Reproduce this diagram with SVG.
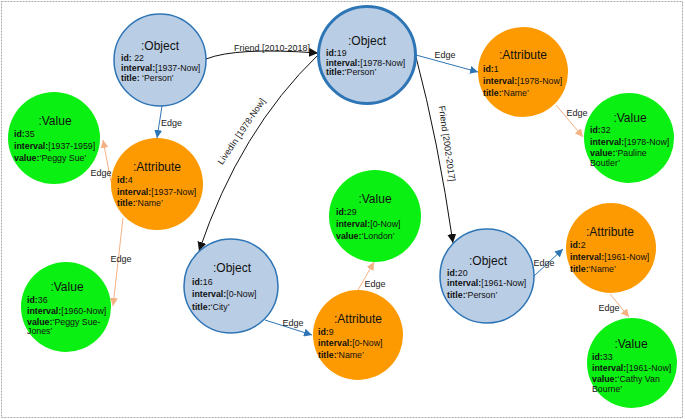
<svg xmlns="http://www.w3.org/2000/svg" width="685" height="419" viewBox="0 0 685 419">
<style>
.obj{fill:#b9cde5;stroke:#2e75b6;stroke-width:1.5}
.att{fill:#fe9a01;stroke:none}
.val{fill:#0af012;stroke:none}
text{font-family:"Liberation Sans",Arial,sans-serif;fill:#111}
.t{font-size:12px;text-anchor:middle}
.d{font-size:8.8px}
.d tspan.k{font-weight:bold}
.lbl{font-size:9px;fill:#222}
.eb{stroke:#2e75b6;stroke-width:1;fill:none}
.eo{stroke:#f4b183;stroke-width:1;fill:none}
.ek{stroke:#111;stroke-width:1;fill:none}
</style>
<defs>
<marker id="ab" viewBox="0 0 10 10" refX="10" refY="5" markerWidth="8" markerHeight="8" markerUnits="userSpaceOnUse" orient="auto"><path d="M0,0L10,5L0,10z" fill="#2e75b6"/></marker>
<marker id="ao" viewBox="0 0 10 10" refX="10" refY="5" markerWidth="8" markerHeight="8" markerUnits="userSpaceOnUse" orient="auto"><path d="M0,0L10,5L0,10z" fill="#f4b183"/></marker>
<marker id="ak" viewBox="0 0 10 10" refX="10" refY="5" markerWidth="9" markerHeight="9" markerUnits="userSpaceOnUse" orient="auto"><path d="M0,0L10,5L0,10z" fill="#111"/></marker>
</defs>
<rect x="1.5" y="1.5" width="681" height="416" fill="#fff" stroke="#aaa" stroke-width="1" stroke-dasharray="2,1"/>

<g id="connectors">
<path class="ek" d="M206,59 Q236,47 318,53" marker-end="url(#ak)"/>
<text class="lbl" x="272" y="51" text-anchor="middle">Friend [2010-2018]</text>
<path class="ek" d="M318,55 Q240,130 199,251" marker-end="url(#ak)"/>
<text class="lbl" text-anchor="middle" transform="translate(244,133) rotate(-56)">LivedIn [1978-Now]</text>
<path class="ek" d="M416,57 Q438,140 453,243" marker-end="url(#ak)"/>
<text class="lbl" text-anchor="middle" transform="translate(444,144) rotate(82)">Friend [2002-2017]</text>

<path class="eb" d="M162,106 L157,138" marker-end="url(#ab)"/>
<text class="lbl" x="161" y="126">Edge</text>
<path class="eo" d="M111,182 L103,140" marker-end="url(#ao)"/>
<text class="lbl" x="101" y="176" text-anchor="middle">Edge</text>
<path class="eo" d="M123,218 L113,306" marker-end="url(#ao)"/>
<text class="lbl" x="121" y="262" text-anchor="middle">Edge</text>
<path class="eb" d="M416,55 L478,72" marker-end="url(#ab)"/>
<text class="lbl" x="445" y="58" text-anchor="middle">Edge</text>
<path class="eo" d="M556,105 L583,137" marker-end="url(#ao)"/>
<text class="lbl" x="577" y="116" text-anchor="middle">Edge</text>
<path class="eb" d="M265,320 L312,335" marker-end="url(#ab)"/>
<text class="lbl" x="293" y="326" text-anchor="middle">Edge</text>
<path class="eo" d="M358,290 L374,262" marker-end="url(#ao)"/>
<text class="lbl" x="375" y="287" text-anchor="middle">Edge</text>
<path class="eb" d="M534,276 L563,249" marker-end="url(#ab)"/>
<text class="lbl" x="544" y="266" text-anchor="middle">Edge</text>
<path class="eo" d="M610,294 L629,317" marker-end="url(#ao)"/>
<text class="lbl" x="609" y="311" text-anchor="middle">Edge</text>
</g>

<g id="obj22">
<circle class="obj" cx="160" cy="60" r="46"/>
<text class="t" x="160" y="50">:Object</text>
<text class="d" x="121" y="61"><tspan class="k">id:</tspan> 22</text>
<text class="d" x="121" y="71"><tspan class="k">interval:</tspan>[1937-Now]</text>
<text class="d" x="121" y="81"><tspan class="k">title:</tspan> ‘Person’</text>
</g>

<g id="obj19">
<circle class="obj" cx="367" cy="55" r="48.5" style="stroke-width:3"/>
<text class="t" x="367" y="45">:Object</text>
<text class="d" x="326" y="56"><tspan class="k">id:</tspan>19</text>
<text class="d" x="326" y="66"><tspan class="k">interval:</tspan>[1978-Now]</text>
<text class="d" x="326" y="75"><tspan class="k">title:</tspan>‘Person’</text>
</g>

<g id="attr1">
<circle class="att" cx="523" cy="72" r="45"/>
<text class="t" x="523" y="59">:Attribute</text>
<text class="d" x="483" y="72"><tspan class="k">id:</tspan>1</text>
<text class="d" x="483" y="84"><tspan class="k">interval:</tspan>[1978-Now]</text>
<text class="d" x="483" y="96"><tspan class="k">title:</tspan>‘Name’</text>
</g>

<g id="val32">
<circle class="val" cx="629" cy="138" r="45"/>
<text class="t" x="630" y="122">:Value</text>
<text class="d" x="590" y="133"><tspan class="k">id:</tspan>32</text>
<text class="d" x="590" y="145"><tspan class="k">interval:</tspan>[1978-Now]</text>
<text class="d" x="590" y="156"><tspan class="k">value:</tspan>‘Pauline</text>
<text class="d" x="590" y="166">Boutler’</text>
</g>

<g id="val35">
<circle class="val" cx="54" cy="138" r="46"/>
<text class="t" x="55" y="125">:Value</text>
<text class="d" x="14" y="137"><tspan class="k">id:</tspan>35</text>
<text class="d" x="14" y="149"><tspan class="k">interval:</tspan>[1937-1959]</text>
<text class="d" x="14" y="161"><tspan class="k">value:</tspan>‘Peggy Sue’</text>
</g>

<g id="attr4">
<circle class="att" cx="157" cy="184" r="46"/>
<text class="t" x="157" y="171">:Attribute</text>
<text class="d" x="117" y="183"><tspan class="k">id:</tspan>4</text>
<text class="d" x="117" y="195"><tspan class="k">interval:</tspan>[1937-Now]</text>
<text class="d" x="117" y="206"><tspan class="k">title:</tspan>‘Name’</text>
</g>

<g id="val36">
<circle class="val" cx="66" cy="307" r="45"/>
<text class="t" x="67" y="291">:Value</text>
<text class="d" x="27" y="303"><tspan class="k">id:</tspan>36</text>
<text class="d" x="27" y="314"><tspan class="k">interval:</tspan>[1960-Now]</text>
<text class="d" x="27" y="325"><tspan class="k">value:</tspan>‘Peggy Sue-</text>
<text class="d" x="27" y="334">Jones’</text>
</g>

<g id="obj16">
<circle class="obj" cx="231" cy="286" r="47"/>
<text class="t" x="232" y="272">:Object</text>
<text class="d" x="192" y="285"><tspan class="k">id:</tspan>16</text>
<text class="d" x="192" y="297"><tspan class="k">interval:</tspan>[0-Now]</text>
<text class="d" x="192" y="310"><tspan class="k">title:</tspan>‘City’</text>
</g>

<g id="val29">
<circle class="val" cx="375" cy="216" r="46"/>
<text class="t" x="375" y="203">:Value</text>
<text class="d" x="336" y="215"><tspan class="k">id:</tspan>29</text>
<text class="d" x="336" y="227"><tspan class="k">interval:</tspan>[0-Now]</text>
<text class="d" x="336" y="239"><tspan class="k">value:</tspan>‘London’</text>
</g>

<g id="attr9">
<circle class="att" cx="358" cy="335" r="45"/>
<text class="t" x="358" y="323">:Attribute</text>
<text class="d" x="318" y="335"><tspan class="k">id:</tspan>9</text>
<text class="d" x="318" y="346"><tspan class="k">interval:</tspan>[0-Now]</text>
<text class="d" x="318" y="358"><tspan class="k">title:</tspan>‘Name’</text>
</g>

<g id="obj20">
<circle class="obj" cx="487" cy="276" r="47"/>
<text class="t" x="488" y="265">:Object</text>
<text class="d" x="447" y="276"><tspan class="k">id:</tspan>20</text>
<text class="d" x="447" y="286"><tspan class="k">interval:</tspan>[1961-Now]</text>
<text class="d" x="447" y="298"><tspan class="k">title:</tspan>‘Person’</text>
</g>

<g id="attr2">
<circle class="att" cx="611" cy="248" r="45"/>
<text class="t" x="610" y="236">:Attribute</text>
<text class="d" x="570" y="248"><tspan class="k">id:</tspan>2</text>
<text class="d" x="570" y="260"><tspan class="k">interval:</tspan>[1961-Now]</text>
<text class="d" x="570" y="272"><tspan class="k">title:</tspan>‘Name’</text>
</g>

<g id="val33">
<circle class="val" cx="632" cy="363" r="45"/>
<text class="t" x="631" y="348">:Value</text>
<text class="d" x="592" y="360"><tspan class="k">id:</tspan>33</text>
<text class="d" x="592" y="371"><tspan class="k">interval:</tspan>[1961-Now]</text>
<text class="d" x="592" y="382"><tspan class="k">value:</tspan>‘Cathy Van</text>
<text class="d" x="592" y="392">Bourne’</text>
</g>
</svg>
